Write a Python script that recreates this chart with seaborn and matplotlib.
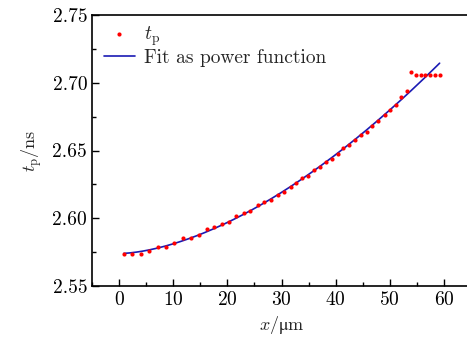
import numpy as np
import pandas as pd
import seaborn as sns
import matplotlib.pyplot as plt
from matplotlib.ticker import MultipleLocator, FormatStrFormatter

# measured points (x in um, t_p in ns)
x_um = [0.87, 2.46, 4.02, 5.61, 7.16, 8.64, 10.23, 11.84, 13.27, 14.80,
        16.15, 17.58, 18.93, 20.30, 21.65, 23.00, 24.24, 25.59, 26.83, 28.07,
        29.29, 30.53, 31.77, 32.69, 33.86, 34.97, 36.08, 37.19, 38.30, 39.35,
        40.39, 41.44, 42.50, 43.61, 44.65, 45.70, 46.75, 47.79, 49.08, 50.08,
        51.12, 52.12, 53.10, 53.84, 54.82, 55.69, 56.56, 57.41, 58.28, 59.20]
t_p = [2.5736, 2.5734, 2.5736, 2.5761, 2.5786, 2.5786, 2.5820, 2.5854, 2.5854, 2.5876,
       2.5918, 2.5938, 2.5955, 2.5975, 2.6017, 2.6037, 2.6056, 2.6096, 2.6118, 2.6137,
       2.6174, 2.6196, 2.6233, 2.6258, 2.6297, 2.6314, 2.6356, 2.6376, 2.6417, 2.6437,
       2.6476, 2.6518, 2.6538, 2.6577, 2.6617, 2.6639, 2.6681, 2.6718, 2.6760, 2.6797,
       2.6838, 2.6897, 2.6939, 2.7082, 2.7059, 2.7059, 2.7059, 2.7059, 2.7059, 2.7059]

df = pd.DataFrame({"x": x_um, "t": t_p})

# power fit y = a + b*x^c on the rising part
fit_df = df[df["x"] < 53.5]
best = None
for c in np.linspace(1.0, 3.0, 401):
    A = np.column_stack([np.ones(len(fit_df)), fit_df["x"].values ** c])
    coef, res, _, _ = np.linalg.lstsq(A, fit_df["t"].values, rcond=None)
    err = np.sum((A @ coef - fit_df["t"].values) ** 2)
    if best is None or err < best[0]:
        best = (err, coef, c)
_, (a, b), c = best
xf = np.linspace(df["x"].min(), df["x"].max(), 200)
fit_line = pd.DataFrame({"x": xf, "t": a + b * xf ** c})

sns.set_style("ticks")
plt.rcParams["font.family"] = ["cmr10", "DejaVu Serif"]
plt.rcParams["mathtext.fontset"] = "custom"
plt.rcParams["mathtext.rm"] = "cmr10"
plt.rcParams["mathtext.it"] = "cmmi10"
plt.rcParams["mathtext.bf"] = "cmb10"
plt.rcParams["mathtext.fallback"] = "stix"
plt.rcParams["axes.formatter.use_mathtext"] = True

fig = plt.figure(figsize=(4.67, 3.42), dpi=100)
ax = fig.add_axes([0.197, 0.1637, 0.8116, 0.7923])

sns.scatterplot(data=df, x="x", y="t", ax=ax, color="#ff0000", s=9,
                linewidth=0, label=r"$t_\mathrm{p}$", zorder=3)
sns.lineplot(data=fit_line, x="x", y="t", ax=ax, color="#1a1ab4", lw=1.2,
             label="Fit as power function", zorder=2)

ax.set_xlim(-5, 65)
ax.set_ylim(2.55, 2.75)
ax.xaxis.set_major_locator(MultipleLocator(10))
ax.xaxis.set_minor_locator(MultipleLocator(5))
ax.yaxis.set_major_locator(MultipleLocator(0.05))
ax.yaxis.set_minor_locator(MultipleLocator(0.025))
ax.yaxis.set_major_formatter(FormatStrFormatter("%.2f"))
ax.tick_params(which="both", direction="in", labelsize=14, width=1, colors="black")
ax.tick_params(which="major", length=5)
ax.tick_params(which="minor", length=3)
for s in ax.spines.values():
    s.set_linewidth(1.2)
    s.set_color("black")

ax.set_xlabel(r"$x/\mathrm{\mu m}$", fontsize=13)
ax.set_ylabel(r"$t_\mathrm{p}$/ns", fontsize=13, labelpad=6)

ax.legend(loc="upper left", frameon=False, fontsize=14, handlelength=1.6,
          borderaxespad=0.0, handletextpad=0.5, labelspacing=0.05,
          bbox_to_anchor=(0.01, 0.995))

fig.savefig("out.png", dpi=100)
